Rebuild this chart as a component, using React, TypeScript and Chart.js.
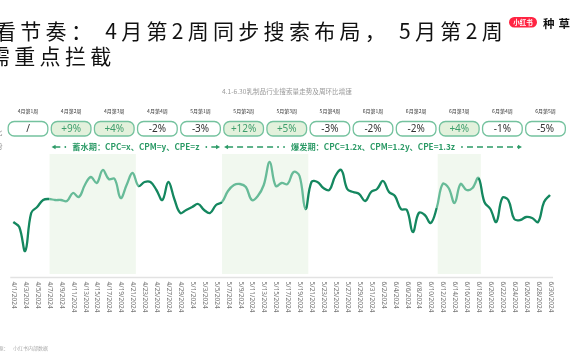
import React, { useEffect, useRef } from 'react';
import { Chart, registerables } from 'chart.js';

Chart.register(...registerables);

// ---------- data ----------
const dates = [
  '4/1/2024','4/2/2024','4/3/2024','4/4/2024','4/5/2024','4/6/2024','4/7/2024','4/8/2024','4/9/2024','4/10/2024',
  '4/11/2024','4/12/2024','4/13/2024','4/14/2024','4/15/2024','4/16/2024','4/17/2024','4/18/2024','4/19/2024','4/20/2024',
  '4/21/2024','4/22/2024','4/23/2024','4/24/2024','4/25/2024','4/26/2024','4/27/2024','4/28/2024','4/29/2024','4/30/2024',
  '5/1/2024','5/2/2024','5/3/2024','5/4/2024','5/5/2024','5/6/2024','5/7/2024','5/8/2024','5/9/2024','5/10/2024',
  '5/11/2024','5/12/2024','5/13/2024','5/14/2024','5/15/2024','5/16/2024','5/17/2024','5/18/2024','5/19/2024','5/20/2024',
  '5/21/2024','5/22/2024','5/23/2024','5/24/2024','5/25/2024','5/26/2024','5/27/2024','5/28/2024','5/29/2024','5/30/2024',
  '5/31/2024','6/1/2024','6/2/2024','6/3/2024','6/4/2024','6/5/2024','6/6/2024','6/7/2024','6/8/2024','6/9/2024',
  '6/10/2024','6/11/2024','6/12/2024','6/13/2024','6/14/2024','6/15/2024','6/16/2024','6/17/2024','6/18/2024','6/19/2024',
  '6/20/2024','6/21/2024','6/22/2024','6/23/2024','6/24/2024','6/25/2024','6/26/2024','6/27/2024','6/28/2024','6/29/2024',
  '6/30/2024',
];

const searchVolume = [
  55, 50, 26, 64, 70, 77, 78, 77, 77, 76,
  84, 80, 92, 100, 94, 107, 98, 98, 79, 92,
  104, 91, 95, 95, 87, 77, 95, 78, 64, 67,
  70, 73, 67, 64, 72, 75, 86, 92, 93, 90,
  77, 81, 92, 115, 91, 94, 93, 105, 101, 68,
  95, 95, 89, 87, 101, 107, 88, 85, 83, 76,
  85, 88, 96, 85, 81, 68, 67, 45, 64, 62,
  54, 69, 93, 89, 74, 93, 87, 89, 99, 75,
  68, 55, 79, 77, 58, 57, 60, 59, 55, 75,
  82,
];

const weeks = ['4月第1周','4月第2周','4月第3周','4月第4周','5月第1周','5月第2周','5月第3周','5月第4周','6月第1周','6月第2周','6月第3周','6月第4周','6月第5周'];
const weekChange = ['/','+9%','+4%','-2%','-3%','+12%','+5%','-3%','-2%','-2%','+4%','-1%','-5%'];
const weekHighlighted = [false,true,true,false,false,true,true,false,false,false,true,false,false];

const phaseLabels = ['蓄水期：CPC=x、CPM=y、CPE=z', '爆发期：CPC=1.2x、CPM=1.2y、CPE=1.3z'];
const phaseStartWeek = [1, 5];
const phaseEndWeek = [4, 11];

const titleLines = ['看节奏： 4月第2周同步搜索布局， 5月第2周', '需重点拦截'];
const chartSubtitle = '4.1-6.30乳制品行业搜索量走势及周环比增速';
const sideLabels = ['周环比', '搜索趋势'];
const sourcePrefix = '数据来源：';
const sourceNote = '小红书内部数据';

// ---------- styles ----------
const DARK = '#14875f';
const LIGHT = '#67bb98';
const BAND = '#f1f8ef';
const GREEN_TEXT = '#2b9a66';
const CJK = "'Noto Sans CJK SC', 'Noto Sans', sans-serif";
const LAT = "'Noto Sans', 'Noto Sans CJK SC', sans-serif";

function bandRuns(): [number, number][] {
  const runs: [number, number][] = [];
  let s = -1;
  weekHighlighted.forEach((h, i) => {
    if (h && s < 0) s = i;
    if (!h && s >= 0) { runs.push([s, i - 1]); s = -1; }
  });
  if (s >= 0) runs.push([s, weekHighlighted.length - 1]);
  return runs;
}

function rr(ctx: CanvasRenderingContext2D, x: number, y: number, w: number, h: number, r: number) {
  ctx.beginPath();
  ctx.moveTo(x + r, y);
  ctx.lineTo(x + w - r, y);
  ctx.arcTo(x + w, y, x + w, y + r, r);
  ctx.lineTo(x + w, y + h - r);
  ctx.arcTo(x + w, y + h, x + w - r, y + h, r);
  ctx.lineTo(x + r, y + h);
  ctx.arcTo(x, y + h, x, y + h - r, r);
  ctx.lineTo(x, y + r);
  ctx.arcTo(x, y, x + r, y, r);
  ctx.closePath();
}

const overlayPlugin = {
  id: 'slideOverlay',
  beforeDatasetsDraw(chart: any) {
    const { ctx, chartArea: a, scales } = chart;
    const wk = scales.x2;
    ctx.save();
    ctx.fillStyle = BAND;
    bandRuns().forEach(([s, e]) => {
      const x0 = wk.getPixelForValue(s - 0.5);
      const x1 = wk.getPixelForValue(e + 0.5);
      ctx.fillRect(x0, a.top, x1 - x0, a.bottom - a.top - 3);
    });
    ctx.strokeStyle = '#e2e2e2';
    ctx.lineWidth = 1.5;
    ctx.beginPath();
    ctx.moveTo(a.left - 3, a.bottom + 0.5);
    ctx.lineTo(a.right + 3, a.bottom + 0.5);
    ctx.stroke();
    ctx.restore();
  },
  afterDraw(chart: any) {
    const { ctx, chartArea: a, scales } = chart;
    const xs = scales.x;
    const wk = scales.x2;
    ctx.save();

    // title
    ctx.fillStyle = '#111';
    ctx.font = `21px ${CJK}`;
    ctx.textBaseline = 'alphabetic';
    ctx.textAlign = 'left';
    (ctx as any).letterSpacing = '4.3px';
    ctx.fillText(titleLines[0], -5, 39);
    ctx.fillText(titleLines[1], -11, 64);
    (ctx as any).letterSpacing = '0px';

    // logo
    ctx.fillStyle = '#ff2442';
    rr(ctx, 509, 17, 28, 10.5, 5.2);
    ctx.fill();
    ctx.fillStyle = '#fff';
    ctx.font = `bold 6.5px ${CJK}`;
    ctx.textAlign = 'center';
    ctx.textBaseline = 'middle';
    ctx.fillText('小红书', 523, 22.3);
    ctx.fillStyle = '#111';
    ctx.font = `bold 11.5px ${CJK}`;
    ctx.textAlign = 'left';
    ctx.textBaseline = 'alphabetic';
    (ctx as any).letterSpacing = '4px';
    ctx.fillText('种草', 543, 27.5);
    (ctx as any).letterSpacing = '0px';

    // subtitle
    ctx.fillStyle = '#999';
    ctx.font = `6.6px ${CJK}`;
    ctx.textAlign = 'center';
    ctx.textBaseline = 'middle';
    ctx.fillText(chartSubtitle, 287, 91);

    // side labels
    ctx.fillStyle = '#888';
    ctx.font = `7px ${CJK}`;
    ctx.textAlign = 'right';
    ctx.fillText(sideLabels[0], 2.5, 132);
    ctx.fillText(sideLabels[1], 2.5, 146);

    // weekly boxes
    const half = wk.getPixelForValue(0.46) - wk.getPixelForValue(0);
    weeks.forEach((w, k) => {
      const cx = wk.getPixelForValue(k);
      ctx.fillStyle = '#333';
      ctx.font = `5px ${CJK}`;
      ctx.textAlign = 'center';
      ctx.textBaseline = 'middle';
      ctx.fillText(w, cx, 110.7);
      rr(ctx, cx - half, 121.5, half * 2, 14.5, 6);
      ctx.fillStyle = weekHighlighted[k] ? '#e3f1dc' : '#ffffff';
      ctx.fill();
      ctx.strokeStyle = '#74c29e';
      ctx.lineWidth = 1.3;
      ctx.stroke();
      ctx.fillStyle = weekHighlighted[k] ? '#3e9e6c' : '#333';
      ctx.font = `10px ${LAT}`;
      ctx.fillText(weekChange[k], cx, 129);
    });

    // phase arrows
    const py = 147;
    ctx.font = `bold 8.2px ${CJK}`;
    phaseLabels.forEach((label, p) => {
      const xa = wk.getPixelForValue(phaseStartWeek[p] - 0.5);
      const xb = wk.getPixelForValue(phaseEndWeek[p] + 0.5);
      const cx = (xa + xb) / 2;
      const tw = ctx.measureText(label).width;
      const tl = cx - tw / 2 - 6;
      const tr = cx + tw / 2 + 6;
      ctx.fillStyle = GREEN_TEXT;
      ctx.strokeStyle = GREEN_TEXT;
      ctx.textAlign = 'center';
      ctx.textBaseline = 'middle';
      ctx.fillText(label, cx, py);
      ctx.lineWidth = 1.3;
      ctx.beginPath();
      ctx.moveTo(xa + 2, py); ctx.lineTo(xa + 6, py - 2.2); ctx.lineTo(xa + 6, py + 2.2); ctx.closePath(); ctx.fill();
      ctx.beginPath();
      ctx.moveTo(xb - 2, py); ctx.lineTo(xb - 6, py - 2.2); ctx.lineTo(xb - 6, py + 2.2); ctx.closePath(); ctx.fill();
      ctx.setLineDash([6, 4]);
      ctx.beginPath();
      ctx.moveTo(xa + 5, py); ctx.lineTo(Math.max(xa + 8, tl - 6), py);
      ctx.moveTo(Math.min(xb - 8, tr + 6), py); ctx.lineTo(xb - 5, py);
      ctx.stroke();
      ctx.setLineDash([]);
      ctx.beginPath();
      ctx.arc(tl - 1, py, 0.9, 0, Math.PI * 2);
      ctx.arc(tr + 1, py, 0.9, 0, Math.PI * 2);
      ctx.fill();
    });

    // date tick labels (rotated clockwise)
    ctx.fillStyle = '#777';
    ctx.font = `6.5px ${LAT}`;
    ctx.textAlign = 'left';
    ctx.textBaseline = 'middle';
    dates.forEach((d, i) => {
      if (i % 2 !== 0) return;
      const x = xs.getPixelForValue(i);
      ctx.save();
      ctx.translate(x + 0.5, a.bottom + 4.5);
      ctx.rotate(Math.PI / 2);
      ctx.fillText(d, 0, 0);
      ctx.restore();
    });

    // source
    ctx.fillStyle = '#aaa';
    ctx.font = `5px ${CJK}`;
    ctx.textAlign = 'right';
    ctx.fillText(sourcePrefix, 8.5, 348);
    ctx.textAlign = 'left';
    ctx.fillText(sourceNote, 13, 348);

    ctx.restore();
  },
};

export default function App() {
  const ref = useRef<HTMLCanvasElement>(null);
  useEffect(() => {
    if (!ref.current) return;
    let chartRef: any = null;
    const segColor = (c: any) => {
      const ch = c.chart || chartRef;
      const wk = ch && ch.scales && ch.scales.x2;
      if (!wk) return DARK;
      const mx = (c.p0.x + c.p1.x) / 2;
      for (const [s, e] of bandRuns()) {
        if (mx >= wk.getPixelForValue(s - 0.5) && mx <= wk.getPixelForValue(e + 0.5)) return LIGHT;
      }
      return DARK;
    };
    const chart = new Chart(ref.current, {
      type: 'line',
      data: {
        labels: dates,
        datasets: [
          {
            label: '搜索量',
            data: searchVolume,
            borderColor: DARK,
            borderWidth: 2.3,
            pointRadius: 0,
            tension: 0.4,
            fill: false,
            segment: { borderColor: segColor },
          },
        ],
      },
      options: {
        animation: false,
        responsive: false,
        devicePixelRatio: 1,
        layout: { padding: { left: 13.3, right: 20, top: 154, bottom: 83 } },
        plugins: { legend: { display: false }, tooltip: { enabled: false }, title: { display: false } },
        scales: {
          x: { type: 'category', display: false, offset: false },
          x2: { type: 'linear', axis: 'x', position: 'top', display: false, min: -0.341, max: 12.104 },
          y: { type: 'linear', display: false, min: 0, max: 123 },
        },
      },
      plugins: [overlayPlugin],
    } as any);
    chartRef = chart;
    return () => chart.destroy();
  }, []);
  return (
    <div style={{ position: 'fixed', left: 0, top: 0, width: 570, height: 360, background: '#fff' }}>
      <canvas ref={ref} width={570} height={360} style={{ display: 'block', width: 570, height: 360 }} />
    </div>
  );
}
